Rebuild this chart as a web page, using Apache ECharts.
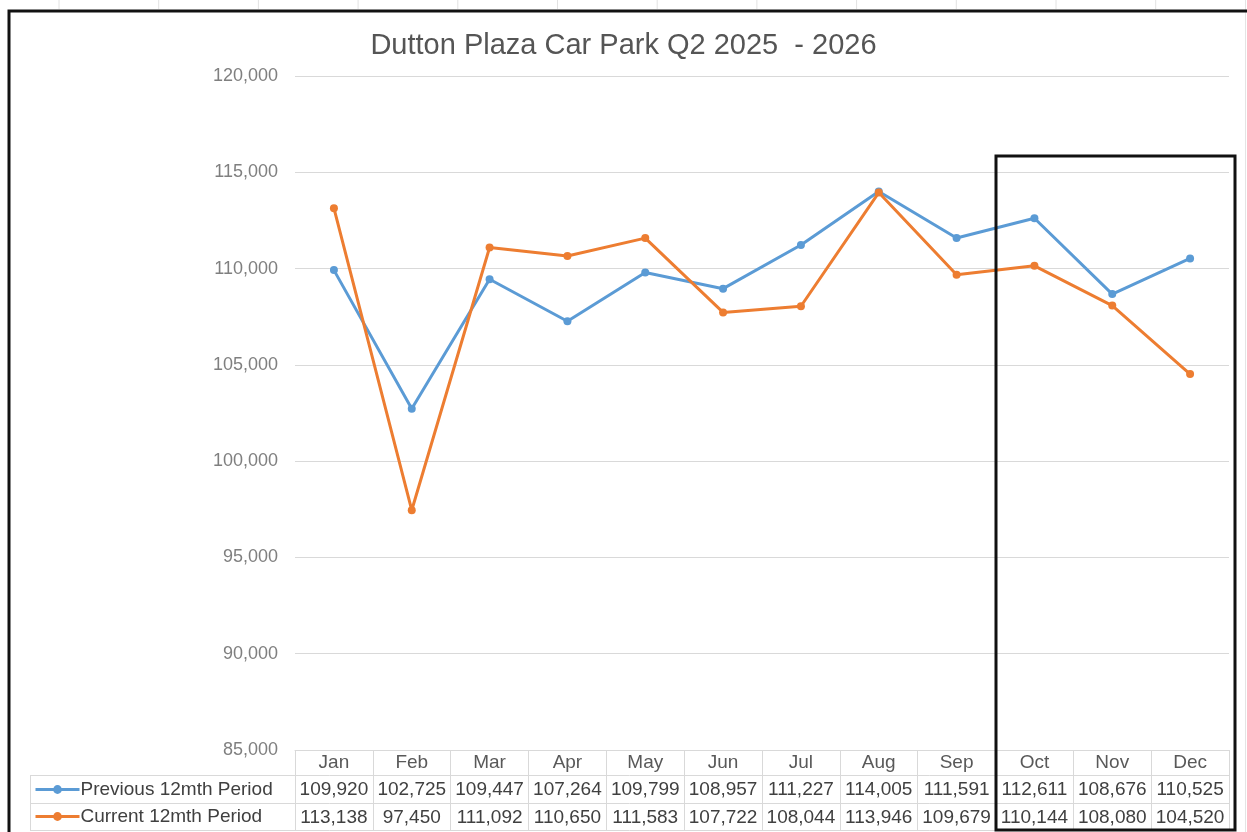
<!DOCTYPE html>
<html>
<head>
<meta charset="utf-8">
<script src="https://cdn.jsdelivr.net/npm/echarts@6/dist/echarts.min.js"></script>
<style>
  html, body { margin: 0; padding: 0; background: #fff; }
  #chart { width: 1247px; height: 832px; }
</style>
</head>
<body>
<div id="chart"></div>
<script>
  const months = ['Jan', 'Feb', 'Mar', 'Apr', 'May', 'Jun', 'Jul', 'Aug', 'Sep', 'Oct', 'Nov', 'Dec'];
  const previousPeriod = [109920, 102725, 109447, 107264, 109799, 108957, 111227, 114005, 111591, 112611, 108676, 110525];
  const currentPeriod = [113138, 97450, 111092, 110650, 111583, 107722, 108044, 113946, 109679, 110144, 108080, 104520];
  const seriesNames = ['Previous 12mth Period', 'Current 12mth Period'];
  const yTicks = { min: 85000, max: 120000, interval: 5000 };

  const fmt = v => v.toLocaleString('en-US');
  const FONT = '"Liberation Sans", Arial, sans-serif';

  const myChart = echarts.init(document.getElementById('chart'));

  // 表格和边框装饰线
  const deco = [];
  // 外框
  deco.push({ type: 'polyline', shape: { points: [[9, 840], [9, 11], [1260, 11]] },
    style: { stroke: '#111', lineWidth: 3, fill: null }, z: 10 });
  deco.push({ type: 'line', shape: { x1: 1245.5, y1: 0, x2: 1245.5, y2: 832 },
    style: { stroke: '#e4e4e4', lineWidth: 1 } });
  for (let i = 0; i < 12; i++) {
    const x = 59 + i * 99.7;
    deco.push({ type: 'line', shape: { x1: x, y1: 0, x2: x, y2: 9 },
      style: { stroke: '#e2e2e2', lineWidth: 1 } });
  }
  // 数据表横线
  [775.5, 803.5, 830.5].forEach(y => {
    deco.push({ type: 'line', shape: { x1: 30, y1: y, x2: 1229, y2: y },
      style: { stroke: '#d9d9d9', lineWidth: 1 } });
  });
  deco.push({ type: 'line', shape: { x1: 30.5, y1: 775, x2: 30.5, y2: 831 },
    style: { stroke: '#d9d9d9', lineWidth: 1 } });
  // 高亮框
  deco.push({ type: 'rect', shape: { x: 996, y: 156, width: 239, height: 674 },
    style: { stroke: '#111', lineWidth: 3, fill: null }, z: 20 });

  const legendBase = {
    orient: 'horizontal',
    left: 34,
    padding: 0,
    itemWidth: 44,
    itemHeight: 11,
    lineStyle: { width: 3 },
    textStyle: { fontFamily: FONT, fontSize: 19, color: '#404040', padding: [0, 0, 0, -4] }
  };

  const options = {
    animation: false,
    textStyle: { fontFamily: FONT },
    title: {
      text: 'Dutton Plaza Car Park Q2 2025  - 2026',
      left: 'center',
      top: 26,
      textStyle: { fontFamily: FONT, fontSize: 29, fontWeight: 'normal', color: '#555555' }
    },
    legend: [
      Object.assign({}, legendBase, { top: 780, data: [seriesNames[0]] }),
      Object.assign({}, legendBase, { top: 807, data: [seriesNames[1]] })
    ],
    grid: { left: 295, right: 18, top: 76, bottom: 82 },
    xAxis: {
      type: 'category',
      data: months,
      boundaryGap: true,
      axisLine: { lineStyle: { color: '#d9d9d9' } },
      axisTick: { show: true, length: 80, lineStyle: { color: '#d9d9d9' } },
      axisLabel: {
        margin: 0,
        interval: 0,
        formatter: (val, idx) =>
          '{h|' + val + '}\n{v|' + fmt(previousPeriod[idx]) + '}\n{v|' + fmt(currentPeriod[idx]) + '}',
        rich: {
          h: { fontFamily: FONT, fontSize: 19, color: '#595959', lineHeight: 26.5 },
          v: { fontFamily: FONT, fontSize: 19, color: '#404040', lineHeight: 27.5 }
        }
      }
    },
    yAxis: {
      type: 'value',
      min: yTicks.min,
      max: yTicks.max,
      interval: yTicks.interval,
      axisLine: { show: false },
      axisTick: { show: false },
      splitLine: { lineStyle: { color: '#d9d9d9' } },
      axisLabel: {
        margin: 17,
        fontFamily: FONT,
        fontSize: 18,
        color: '#7f7f7f',
        formatter: v => fmt(v)
      }
    },
    series: [
      {
        name: seriesNames[0],
        type: 'line',
        data: previousPeriod,
        symbol: 'circle',
        symbolSize: 8,
        itemStyle: { color: '#5b9bd5' },
        lineStyle: { width: 3, color: '#5b9bd5' },
        z: 3
      },
      {
        name: seriesNames[1],
        type: 'line',
        data: currentPeriod,
        symbol: 'circle',
        symbolSize: 8,
        itemStyle: { color: '#ed7d31' },
        lineStyle: { width: 3, color: '#ed7d31' },
        z: 4
      }
    ],
    graphic: deco
  };
  myChart.setOption(options);
</script>
</body>
</html>
